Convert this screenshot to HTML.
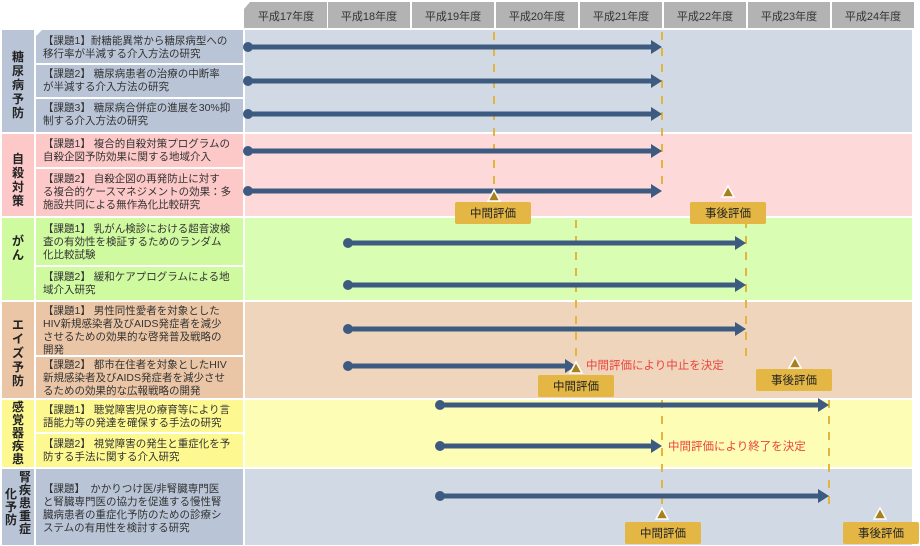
<!DOCTYPE html>
<html><head><meta charset="utf-8"><style>
html,body{margin:0;padding:0;background:#fff;width:920px;height:546px;overflow:hidden}
svg{display:block}
text{font-family:"Liberation Sans","Noto Sans CJK JP",sans-serif}
.t{font-size:10.5px;fill:#333}
.c{font-size:12px;font-weight:bold;fill:#222}
.y{font-size:11px;fill:#333}
.r{font-size:11.5px;fill:#e8453c}
.b{font-size:11.5px;fill:#222}
</style></head><body>
<svg width="920" height="546" viewBox="0 0 920 546" xmlns="http://www.w3.org/2000/svg">
<!-- header -->
<g fill="#b3b3b3">
<path d="M250,2 H327 V28 H244 V9 Z"/>
<rect x="328" y="2" width="82" height="26"/><rect x="412" y="2" width="82" height="26"/>
<rect x="496" y="2" width="82" height="26"/><rect x="580" y="2" width="82" height="26"/>
<rect x="664" y="2" width="82" height="26"/><rect x="748" y="2" width="82" height="26"/>
<rect x="832" y="2" width="82" height="26"/>
</g>
<g class="y" text-anchor="middle">
<text x="286" y="20">平成17年度</text><text x="369" y="20">平成18年度</text><text x="453" y="20">平成19年度</text>
<text x="537" y="20">平成20年度</text><text x="621" y="20">平成21年度</text><text x="705" y="20">平成22年度</text>
<text x="789" y="20">平成23年度</text><text x="873" y="20">平成24年度</text>
</g>
<rect x="2" y="30" width="32" height="102" fill="#b9c5d7"/>
<path d="M42,30 H243 V63 H36 V36 Z" fill="#b9c5d7"/>
<rect x="36" y="65" width="207" height="32" fill="#b9c5d7"/>
<rect x="36" y="99" width="207" height="33" fill="#b9c5d7"/>
<rect x="245" y="30" width="667" height="102" fill="#d1d9e5"/>
<rect x="2" y="134" width="32" height="82" fill="#fdc8c8"/>
<rect x="36" y="134" width="207" height="33" fill="#fdc8c8"/>
<rect x="36" y="169" width="207" height="47" fill="#fdc8c8"/>
<rect x="245" y="134" width="667" height="82" fill="#fed9da"/>
<rect x="2" y="218" width="32" height="82" fill="#cffa9f"/>
<rect x="36" y="218" width="207" height="47" fill="#cffa9f"/>
<rect x="36" y="267" width="207" height="33" fill="#cffa9f"/>
<rect x="245" y="218" width="667" height="82" fill="#d9fdb2"/>
<rect x="2" y="302" width="32" height="96" fill="#ebc6a6"/>
<rect x="36" y="302" width="207" height="53" fill="#ebc6a6"/>
<rect x="36" y="357" width="207" height="41" fill="#ebc6a6"/>
<rect x="245" y="302" width="667" height="96" fill="#f0d5bd"/>
<rect x="2" y="400" width="32" height="67" fill="#fdf88f"/>
<rect x="36" y="400" width="207" height="32" fill="#fdf88f"/>
<rect x="36" y="434" width="207" height="33" fill="#fdf88f"/>
<rect x="245" y="400" width="667" height="67" fill="#fefdb5"/>
<rect x="2" y="469" width="32" height="76" fill="#b9c5d7"/>
<rect x="36" y="469" width="207" height="76" fill="#b9c5d7"/>
<rect x="245" y="469" width="667" height="76" fill="#d1d9e5"/>

<g class="c" text-anchor="middle">
<text x="18" y="61">糖</text><text x="18" y="75">尿</text><text x="18" y="89">病</text><text x="18" y="103">予</text><text x="18" y="117">防</text>
<text x="18" y="163">自</text><text x="18" y="177">殺</text><text x="18" y="191">対</text><text x="18" y="205">策</text>
<text x="18" y="245">が</text><text x="18" y="259">ん</text>
<text x="18" y="329">エ</text><text x="18" y="343">イ</text><text x="18" y="357">ズ</text><text x="18" y="371">予</text><text x="18" y="385">防</text>
<text x="18" y="411">感</text><text x="18" y="424">覚</text><text x="18" y="437">器</text><text x="18" y="450">疾</text><text x="18" y="463">患</text>
<text x="25" y="481">腎</text><text x="25" y="494">疾</text><text x="25" y="507">患</text><text x="25" y="520">重</text><text x="25" y="533">症</text>
<text x="11" y="498">化</text><text x="11" y="511">予</text><text x="11" y="524">防</text>
</g>
<g class="t">
<text x="43" y="44">【課題1】耐糖能異常から糖尿病型への</text><text x="43" y="57">移行率が半減する介入方法の研究</text>
<text x="43" y="77">【課題2】 糖尿病患者の治療の中断率</text><text x="43" y="90">が半減する介入方法の研究</text>
<text x="43" y="111">【課題3】 糖尿病合併症の進展を30%抑</text><text x="43" y="124">制する介入方法の研究</text>
<text x="43" y="147">【課題1】 複合的自殺対策プログラムの</text><text x="43" y="160">自殺企図予防効果に関する地域介入</text>
<text x="43" y="182">【課題2】 自殺企図の再発防止に対す</text><text x="43" y="195">る複合的ケースマネジメントの効果：多</text><text x="43" y="208">施設共同による無作為化比較研究</text>
<text x="43" y="232">【課題1】 乳がん検診における超音波検</text><text x="43" y="245">査の有効性を検証するためのランダム</text><text x="43" y="258">化比較試験</text>
<text x="43" y="280">【課題2】 緩和ケアプログラムによる地</text><text x="43" y="293">域介入研究</text>
<text x="43" y="314">【課題1】 男性同性愛者を対象とした</text><text x="43" y="327">HIV新規感染者及びAIDS発症者を減少</text><text x="43" y="340">させるための効果的な啓発普及戦略の</text><text x="43" y="353">開発</text>
<text x="43" y="368">【課題2】 都市在住者を対象としたHIV</text><text x="43" y="381">新規感染者及びAIDS発症者を減少させ</text><text x="43" y="394">るための効果的な広報戦略の開発</text>
<text x="43" y="413">【課題1】 聴覚障害児の療育等により言</text><text x="43" y="426">語能力等の発達を確保する手法の研究</text>
<text x="43" y="447">【課題2】 視覚障害の発生と重症化を予</text><text x="43" y="460">防する手法に関する介入研究</text>
<text x="43" y="492">【課題】　かかりつけ医/非腎臓専門医</text><text x="43" y="505">と腎臓専門医の協力を促進する慢性腎</text><text x="43" y="518">臓病患者の重症化予防のための診療シ</text><text x="43" y="531">ステムの有用性を検討する研究</text>
</g>
<g stroke="#e3b53f" stroke-width="2" stroke-dasharray="8,8">
<line x1="494" y1="32" x2="494" y2="192"/><line x1="662" y1="32" x2="662" y2="192"/>
<line x1="576" y1="220" x2="576" y2="362"/><line x1="746" y1="220" x2="746" y2="362"/>
<line x1="662" y1="400" x2="662" y2="512"/><line x1="829" y1="400" x2="829" y2="510"/>
</g>
<g stroke="#3d5a80" stroke-width="5" fill="none">
<line x1="248" y1="47" x2="653" y2="47"/><line x1="248" y1="81" x2="653" y2="81"/><line x1="248" y1="114" x2="653" y2="114"/>
<line x1="248" y1="151" x2="653" y2="151"/><line x1="248" y1="191" x2="653" y2="191"/>
<line x1="348" y1="243" x2="737" y2="243"/><line x1="348" y1="285" x2="737" y2="285"/>
<line x1="348" y1="329" x2="737" y2="329"/><line x1="348" y1="366" x2="567" y2="366"/>
<line x1="440" y1="405" x2="820" y2="405"/><line x1="440" y1="446" x2="653" y2="446"/>
<line x1="440" y1="496" x2="820" y2="496"/>
</g>
<g fill="#3d5a80">
<path d="M651,40 L662,47 L651,54Z"/><path d="M651,74 L662,81 L651,88Z"/><path d="M651,107 L662,114 L651,121Z"/>
<path d="M651,144 L662,151 L651,158Z"/><path d="M651,184 L662,191 L651,198Z"/>
<path d="M735,236 L746,243 L735,250Z"/><path d="M735,278 L746,285 L735,292Z"/>
<path d="M735,322 L746,329 L735,336Z"/><path d="M565,359 L576,366 L565,373Z"/>
<path d="M818,398 L829,405 L818,412Z"/><path d="M651,439 L662,446 L651,453Z"/>
<path d="M818,489 L829,496 L818,503Z"/>
<circle cx="248" cy="47" r="5"/><circle cx="248" cy="81" r="5"/><circle cx="248" cy="114" r="5"/>
<circle cx="248" cy="151" r="5"/><circle cx="248" cy="191" r="5"/>
<circle cx="348" cy="243" r="5"/><circle cx="348" cy="285" r="5"/><circle cx="348" cy="329" r="5"/><circle cx="348" cy="366" r="5"/>
<circle cx="440" cy="405" r="5"/><circle cx="440" cy="446" r="5"/><circle cx="440" cy="496" r="5"/>
</g>
<g fill="#a8801c" stroke="#fff" stroke-width="1.5">
<path d="M494,190 L500,201 L488,201 Z"/><path d="M728,186 L734,197 L722,197 Z"/>
<path d="M576,362 L582,373 L570,373 Z"/><path d="M795,357 L801,368 L789,368 Z"/>
<path d="M662,508 L668,519 L656,519 Z"/><path d="M880,508 L886,519 L874,519 Z"/>
</g>
<g fill="#e4b744">
<rect x="455" y="202" width="76" height="22" rx="2"/><rect x="690" y="202" width="76" height="22" rx="2"/>
<rect x="538" y="375" width="76" height="22" rx="2"/><rect x="756" y="369" width="76" height="22" rx="2"/>
<rect x="625" y="522" width="76" height="22" rx="2"/><rect x="843" y="522" width="76" height="22" rx="2"/>
</g>
<g class="b" text-anchor="middle">
<text x="493" y="217">中間評価</text><text x="728" y="217">事後評価</text>
<text x="576" y="390">中間評価</text><text x="794" y="384">事後評価</text>
<text x="663" y="537">中間評価</text><text x="881" y="537">事後評価</text>
</g>
<text class="r" x="586" y="369">中間評価により中止を決定</text>
<text class="r" x="668" y="450">中間評価により終了を決定</text>
</svg>
</body></html>
